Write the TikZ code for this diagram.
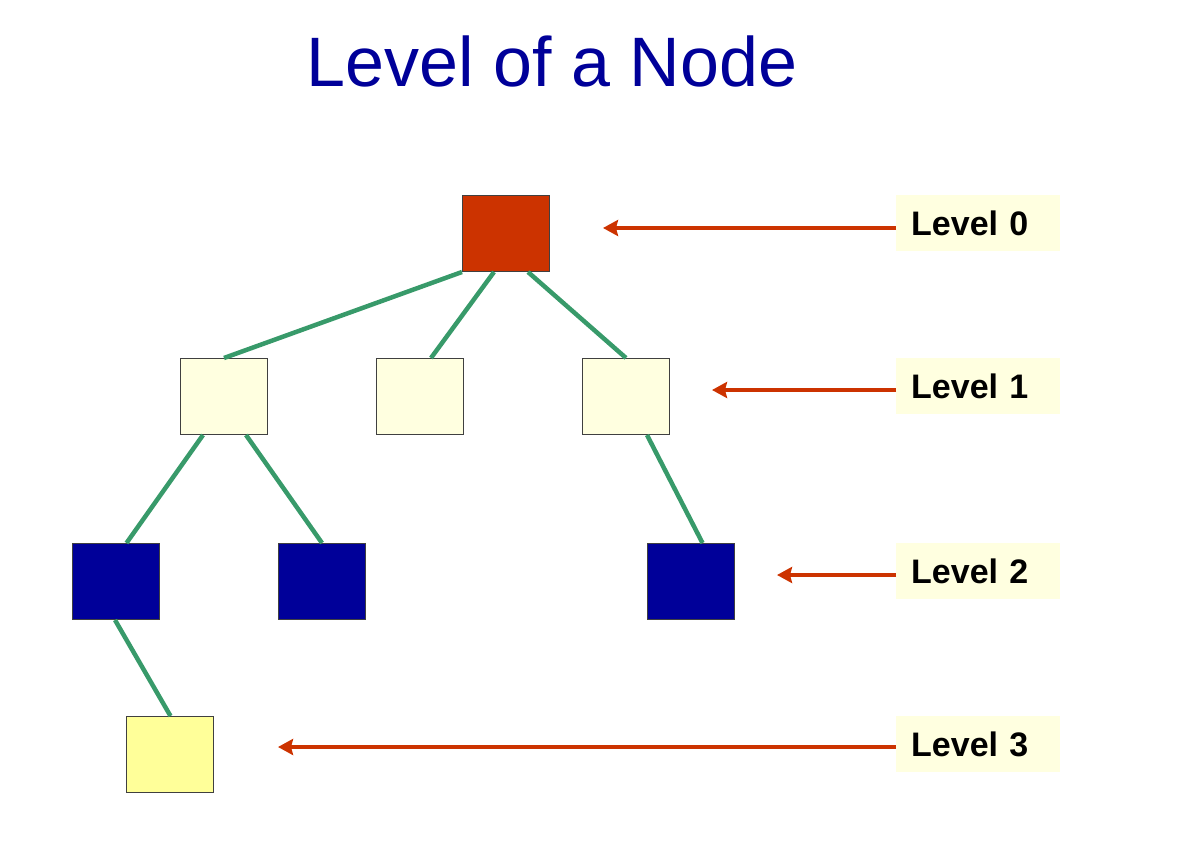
\documentclass[tikz,border=0pt]{standalone}
\usepackage{fontspec}
\setmainfont{Liberation Sans}
\usetikzlibrary{arrows.meta}
\definecolor{rootred}{RGB}{204,51,0}
\definecolor{cream}{RGB}{255,255,224}
\definecolor{navy}{RGB}{0,0,153}
\definecolor{leafyel}{RGB}{255,255,153}
\definecolor{edgegreen}{RGB}{56,154,106}
\definecolor{arrred}{RGB}{204,51,0}
\begin{document}
\begin{tikzpicture}[x=1pt,y=-1pt,
  treebox/.style={draw=black!75,line width=1pt,minimum width=87pt,minimum height=76pt,inner sep=0pt,anchor=north west},
  lvlbox/.style={fill=cream,text width=134pt,inner xsep=15pt,inner ysep=0pt,minimum height=56pt,align=left,anchor=north west,font=\fontsize{34}{38}\selectfont\bfseries},
  edge/.style={draw=edgegreen,line width=4.5pt},
  lvlarrow/.style={draw=arrred,line width=4.5pt,-{Stealth[length=15pt,width=16pt,inset=2pt]}}]
\useasboundingbox (0,0) rectangle (1188,842);
\node[text=navy,font=\fontsize{70}{80}\selectfont,anchor=base] (title) at (552,87) {Level of a Node};
% tree
\node[treebox,fill=rootred] (r) at (462,195) {};
\node[treebox,fill=cream] (a) at (180,358) {};
\node[treebox,fill=cream] (b) at (376,358) {};
\node[treebox,fill=cream] (c) at (582,358) {};
\node[treebox,fill=navy] (d) at (72,543) {};
\node[treebox,fill=navy] (e) at (278,543) {};
\node[treebox,fill=navy] (f) at (647,543) {};
\node[treebox,fill=leafyel] (g) at (126,716) {};
\draw[edge] (r.south west) -- (a.north);
\draw[edge] ([xshift=32pt]r.south west) -- ([xshift=11pt]b.north);
\draw[edge] ([xshift=-22pt]r.south east) -- (c.north);
\draw[edge] ([xshift=23pt]a.south west) -- ([xshift=10.5pt]d.north);
\draw[edge] ([xshift=-22pt]a.south east) -- (e.north);
\draw[edge] ([xshift=65pt]c.south west) -- ([xshift=11.5pt]f.north);
\draw[edge] ([xshift=43pt]d.south west) -- ([xshift=0.5pt]g.north);
% level labels
\node[lvlbox] (l0) at (896,195) {Level 0};
\node[lvlbox] (l1) at (896,358) {Level 1};
\node[lvlbox] (l2) at (896,543) {Level 2};
\node[lvlbox] (l3) at (896,716) {Level 3};
\coordinate (t0) at (603,228);
\coordinate (t1) at (712,390);
\coordinate (t2) at (777,575);
\coordinate (t3) at (278,747);
\draw[lvlarrow] (l0.west |- t0) -- (t0);
\draw[lvlarrow] (l1.west |- t1) -- (t1);
\draw[lvlarrow] (l2.west |- t2) -- (t2);
\draw[lvlarrow] (l3.west |- t3) -- (t3);
\end{tikzpicture}
\end{document}
